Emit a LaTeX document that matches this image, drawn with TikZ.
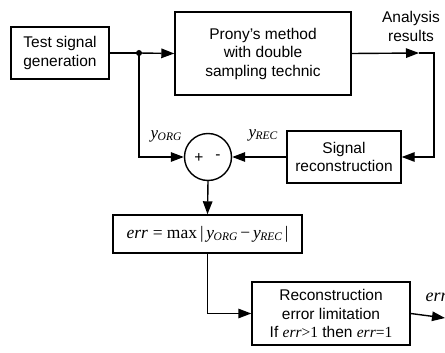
\documentclass[tikz,border=0pt]{standalone}
\usepackage{fontspec}
\setmainfont{Liberation Sans}
\newfontfamily\tms{Liberation Serif}
\usetikzlibrary{arrows.meta}

\begin{document}
\begin{tikzpicture}[x=1pt, y=-1pt, line width=1.4pt,
  block/.style={draw, rectangle, align=center, inner sep=0pt},
  arr/.style={-{Triangle[length=13pt, width=9.5pt]}}]

\newcommand\SUBY[1]{{\tms\itshape y\kern-0.5pt\raisebox{-0.35ex}{\fontsize{11.5}{12}\selectfont #1}}}
\newcommand\ERR{{\tms\itshape err}}

\fontsize{15.5}{18.5}\selectfont
\useasboundingbox (0,0) rectangle (445,353);

%% forward path
\node[block, minimum width=98pt, minimum height=52pt] (gen) at (60,53)
  {Test signal\\generation};
\node[block, minimum width=176pt, minimum height=83pt] (prony) at (263,53.5)
  {Prony's method\\with double\\sampling technic};
\node[align=center, inner sep=0pt] (res) at (411,26.5) {Analysis\\results};

\coordinate (split) at (139,53);
\coordinate (outmid) at (419,53);
\coordinate (outc) at (434,53);

\draw (gen.east) -- (split);
\draw[arr] (split) -- (prony.west);
\fill (split) circle (3pt);
\draw[arr] (prony.east) -- (outmid);

%% reconstruction and comparison
\node[block, minimum width=114pt, minimum height=52pt] (recon) at (344,157)
  {Signal\\reconstruction};
\node[draw, circle, minimum size=47pt, inner sep=0pt] (sum) at (208,157) {};
\node at (199,158) {+};
\node at (218,157) {-};

\draw[arr] (outmid) -- (outc) |- (recon.east);
\draw[arr] (split) |- (sum.west);
\draw[arr] (recon.west) -- (sum.east);

\node (org) at (166,136) {\fontsize{17}{18}\selectfont\SUBY{ORG}};
\node (rec) at (263,135) {\fontsize{17}{18}\selectfont\SUBY{REC}};

%% error
\node[block, minimum width=189pt, minimum height=38pt] (errbox) at (207.5,234)
  {\fontsize{17.5}{18}\selectfont\ERR{} {\tms= max\,|\,}\SUBY{ORG}{\tms\,−\,}\SUBY{REC}{\tms\,|}};
\draw[arr] (sum.south) -- (errbox.north);

\node[block, minimum width=158pt, minimum height=63pt] (limit) at (331,313.5)
  {Reconstruction\\error limitation\\If \ERR{\tms>1} then \ERR{\tms=1}};
\draw[arr] (errbox.south) |- (limit.west);

\coordinate (out) at (445,318);
\draw[arr] (limit.east) -- (out);
\node[anchor=west, inner sep=0pt] (errout) at (425,297)
  {\fontsize{18}{18}\selectfont\ERR};
\end{tikzpicture}
\end{document}
